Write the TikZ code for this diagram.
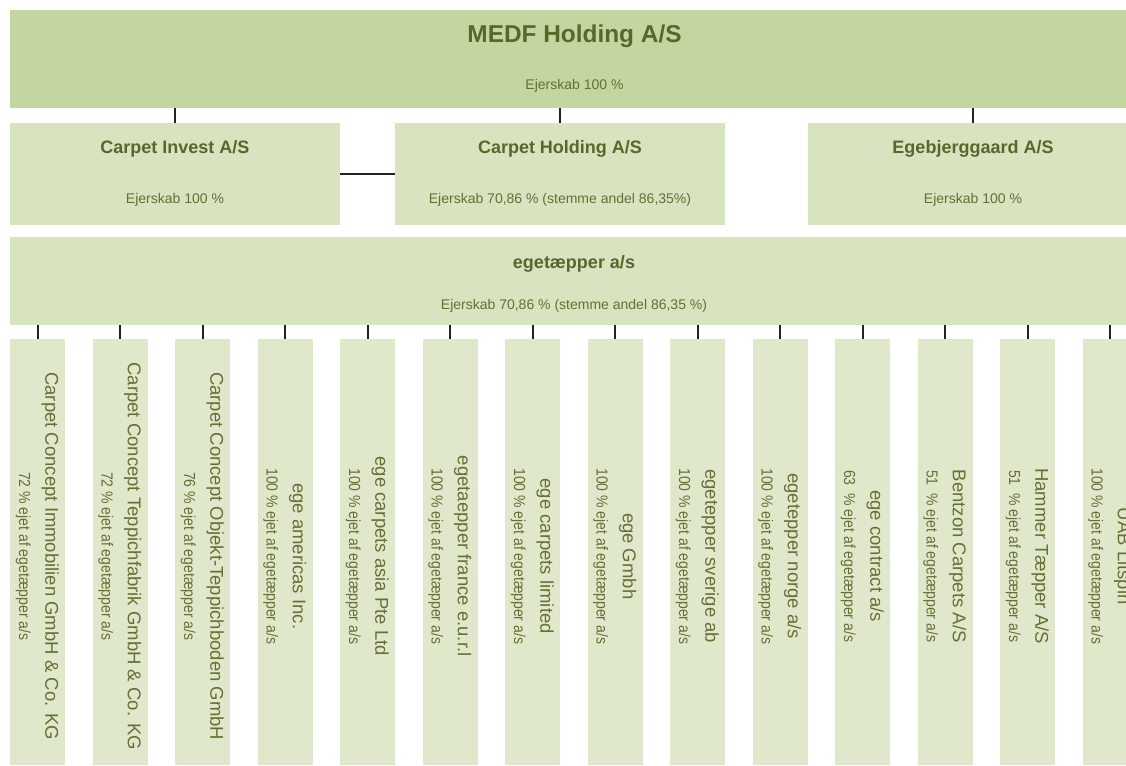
\documentclass[tikz,border=0pt]{standalone}
\usepackage{fontspec}
\setmainfont{Liberation Sans}
\definecolor{topgreen}{RGB}{196,214,160}
\definecolor{midgreen}{RGB}{216,227,191}
\definecolor{lightgreen}{RGB}{224,232,204}
\definecolor{headtext}{RGB}{88,104,42}
\definecolor{bodytext}{RGB}{100,112,52}
\definecolor{linkline}{RGB}{34,34,34}
\newcommand{\fs}[1]{\fontsize{#1}{#1}\selectfont}
\newcommand{\narrowfs}[1]{\fontsize{#1}{#1}\selectfont\addfontfeature{FakeStretch=0.875}}
\tikzset{
  orgbox/.style={draw=none,inner sep=0pt,anchor=north west},
  topbox/.style={orgbox,fill=topgreen,minimum width=1128pt,minimum height=98pt},
  midbox/.style={orgbox,fill=midgreen,minimum width=330pt,minimum height=102pt},
  egebox/.style={orgbox,fill=midgreen,minimum width=1128pt,minimum height=88pt},
  childbox/.style={orgbox,fill=lightgreen,minimum width=55pt,minimum height=426pt},
  bigname/.style={inner sep=0pt,text=headtext,font=\bfseries\fs{24.4}},
  coname/.style={inner sep=0pt,text=headtext,font=\bfseries\fs{18}},
  sharetxt/.style={inner sep=0pt,text=bodytext,font=\fs{14}},
  childtitle/.style={inner sep=0pt,rotate=-90,text=bodytext,font=\fs{18.5}},
  childsub/.style={inner sep=0pt,rotate=-90,text=bodytext,font=\narrowfs{16}},
  conn/.style={draw=linkline,line width=1.8pt}
}
% one subsidiary column: index, company name, ownership line
\newcommand{\subsidiary}[3]{%
  \node[childbox] (c#1) at ({10+82.5*(#1-1)},339) {};
  \node[childtitle] (c#1t) at ([xshift=12.5pt,yshift=-4pt]c#1.center) {#2};
  \node[childsub] (c#1s) at ([xshift=-14.5pt,yshift=-4pt]c#1.center) {#3};
  \draw[conn] (ege.south -| c#1.north) -- (c#1.north);
}
\begin{document}
\begin{tikzpicture}[x=1pt,y=-1pt]
\useasboundingbox (0,0) rectangle (1126,765);
\clip (0,0) rectangle (1126,765);

% parent company
\node[topbox] (medf) at (10,10) {};
\node[bigname] (medfname) at (574.5,36) {MEDF Holding A/S};
\node[sharetxt] (medfshare) at (574.5,86) {Ejerskab 100 \%};

% second tier
\node[midbox] (invest) at (10,123) {};
\node[midbox] (holding) at (395,123) {};
\node[midbox] (egeb) at (808,123) {};
\node[coname] (investname) at (175,149) {Carpet Invest A/S};
\node[sharetxt] (investshare) at (175,200) {Ejerskab 100 \%};
\node[coname] (holdingname) at (560,149) {Carpet Holding A/S};
\node[sharetxt] (holdingshare) at (560,200) {Ejerskab 70,86 \% (stemme andel 86,35\%)};
\node[coname] (egebname) at (973,149) {Egebjerggaard A/S};
\node[sharetxt] (egebshare) at (973,200) {Ejerskab 100 \%};

\draw[conn] (medf.south -| invest.north) -- (invest.north);
\draw[conn] (medf.south -| holding.north) -- (holding.north);
\draw[conn] (medf.south -| egeb.north) -- (egeb.north);
\draw[conn] (invest.east) -- (holding.west);

% operating company
\node[egebox] (ege) at (10,237) {};
\node[coname] (egename) at (574,264) {egetæpper a/s};
\node[sharetxt] (egeshare) at (574,306) {Ejerskab 70,86 \% (stemme andel 86,35 \%)};

% subsidiaries
\subsidiary{1}{Carpet Concept Immobilien GmbH \& Co. KG}{72 \% ejet af egetæpper a/s}
\subsidiary{2}{Carpet Concept Teppichfabrik GmbH \& Co. KG}{72 \% ejet af egetæpper a/s}
\subsidiary{3}{Carpet Concept Objekt-Teppichboden GmbH}{76 \% ejet af egetæpper a/s}
\subsidiary{4}{ege americas Inc.}{100 \% ejet af egetæpper a/s}
\subsidiary{5}{ege carpets asia Pte Ltd}{100 \% ejet af egetæpper a/s}
\subsidiary{6}{egetaepper france e.u.r.l}{100 \% ejet af egetæpper a/s}
\subsidiary{7}{ege carpets limited}{100 \% ejet af egetæpper a/s}
\subsidiary{8}{ege Gmbh}{100 \% ejet af egetæpper a/s}
\subsidiary{9}{egetepper sverige ab}{100 \% ejet af egetæpper a/s}
\subsidiary{10}{egetepper norge a/s}{100 \% ejet af egetæpper a/s}
\subsidiary{11}{ege contract a/s}{63\ \ \% ejet af egetæpper a/s}
\subsidiary{12}{Bentzon Carpets A/S}{51\ \ \% ejet af egetæpper a/s}
\subsidiary{13}{Hammer Tæpper A/S}{51\ \ \% ejet af egetæpper a/s}
\subsidiary{14}{UAB Litspin}{100 \% ejet af egetæpper a/s}
\end{tikzpicture}
\end{document}
